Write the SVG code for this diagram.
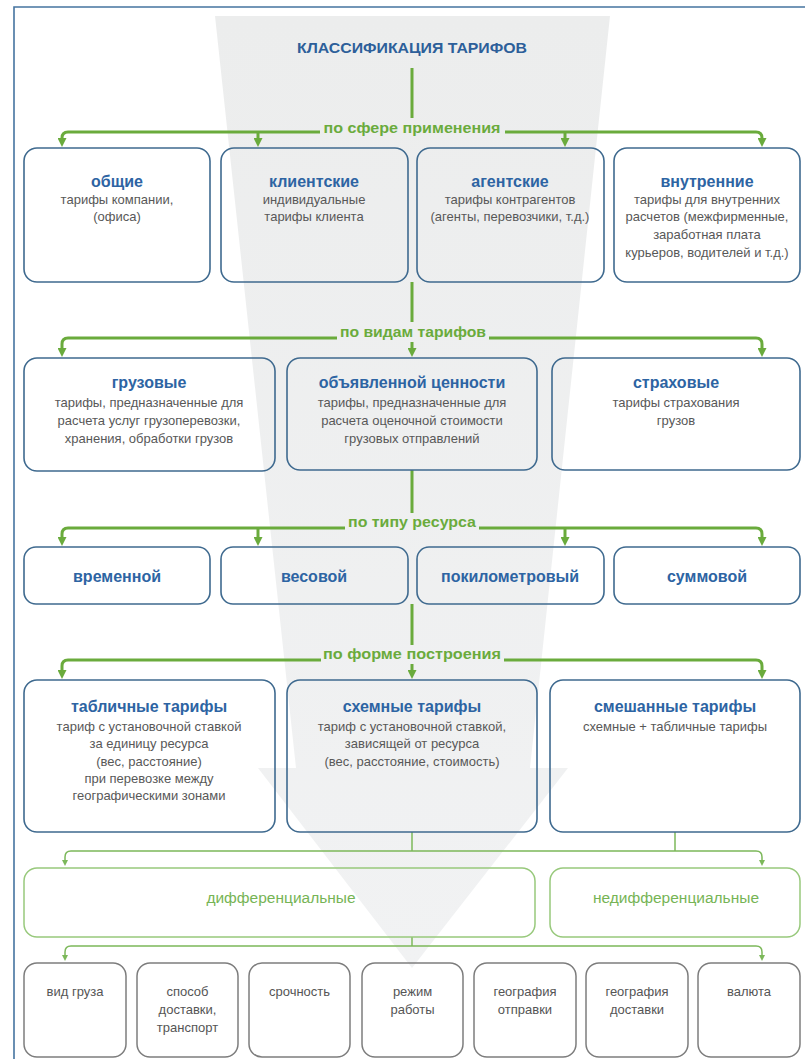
<svg xmlns="http://www.w3.org/2000/svg" width="805" height="1059" viewBox="0 0 805 1059">
<defs>
<style>
.box{fill:none;stroke:#3f6a8f;stroke-width:1.6}
.gbox{fill:none;stroke:#98c97c;stroke-width:1.5}
.kbox{fill:none;stroke:#7d7d7d;stroke-width:1.5}
.t{font-family:"Liberation Sans",Arial,sans-serif;text-anchor:middle}
.ttl{font-weight:bold;font-size:16px;fill:#2d64a3}
.sub{font-size:13px;fill:#585858}
.lbl{font-weight:bold;font-size:15px;fill:#6aab3c}
.thick{fill:none;stroke:#6aab3c;stroke-width:3}
.thin{fill:none;stroke:#7cb85a;stroke-width:1.5}
.diff{font-size:15.5px;fill:#76b455}
.bot{font-size:13px;fill:#555}
</style>
<linearGradient id="band" x1="0" y1="0" x2="0" y2="1">
<stop offset="0" stop-color="#eceded"/>
<stop offset="1" stop-color="#f1f2f3"/>
</linearGradient>
<marker id="ag" viewBox="0 0 10 10" refX="0" refY="5" markerWidth="9" markerHeight="9" markerUnits="userSpaceOnUse" orient="auto">
<path d="M0,0 L10,5 L0,10 Z" fill="#6aab3c"/>
</marker>
<marker id="as" viewBox="0 0 10 10" refX="0" refY="5" markerWidth="6" markerHeight="6" markerUnits="userSpaceOnUse" orient="auto">
<path d="M0,0 L10,5 L0,10 Z" fill="#7cb85a"/>
</marker>
</defs>
<rect width="805" height="1059" fill="#fff"/>
<polygon points="215,16 610,16 530,768 568,768 412,968 258,768 296,768" fill="url(#band)"/>
<path d="M14,1059 V7 H805" fill="none" stroke="#4574a0" stroke-width="1.6"/>

<g id="title">
<text class="t" x="412" y="53" font-size="15" font-weight="bold" fill="#2d5f9a" textLength="230" lengthAdjust="spacingAndGlyphs">КЛАССИФИКАЦИЯ ТАРИФОВ</text>
</g>

<g id="connectors">
<path class="thick" d="M412,68 V118"/>
<path class="thick" d="M320,132 H68 Q62,132 62,138" marker-end="url(#ag)"/>
<path class="thick" d="M258,132 V138" marker-end="url(#ag)"/>
<path class="thick" d="M505,132 H756 Q762,132 762,138" marker-end="url(#ag)"/>
<path class="thick" d="M565,132 V138" marker-end="url(#ag)"/>

<path class="thick" d="M412,282 V322"/>
<path class="thick" d="M337,338 H68 Q62,338 62,344 V348" marker-end="url(#ag)"/>
<path class="thick" d="M489,338 H756 Q762,338 762,344 V348" marker-end="url(#ag)"/>
<path class="thick" d="M412,342 V348" marker-end="url(#ag)"/>

<path class="thick" d="M412,470 V513"/>
<path class="thick" d="M345,528 H68 Q62,528 62,534 V537" marker-end="url(#ag)"/>
<path class="thick" d="M258,528 V537" marker-end="url(#ag)"/>
<path class="thick" d="M479,528 H756 Q762,528 762,534 V537" marker-end="url(#ag)"/>
<path class="thick" d="M565,528 V537" marker-end="url(#ag)"/>

<path class="thick" d="M412,604 V645"/>
<path class="thick" d="M321,660 H68 Q62,660 62,666 V670" marker-end="url(#ag)"/>
<path class="thick" d="M504,660 H756 Q762,660 762,666 V670" marker-end="url(#ag)"/>
<path class="thick" d="M412,664 V670" marker-end="url(#ag)"/>

<path class="thin" d="M412,832 V851"/>
<path class="thin" d="M675,832 V851"/>
<path class="thin" d="M412,851 H71 Q65,851 65,857 V860" marker-end="url(#as)"/>
<path class="thin" d="M412,851 H756 Q762,851 762,857 V860" marker-end="url(#as)"/>

<path class="thin" d="M412,937 V946"/>
<path class="thin" d="M412,946 H71 Q65,946 65,952 V955" marker-end="url(#as)"/>
<path class="thin" d="M412,946 H756 Q762,946 762,952 V955" marker-end="url(#as)"/>
</g>

<g id="labels">
<text class="t lbl" x="412" y="133" textLength="177" lengthAdjust="spacingAndGlyphs">по сфере применения</text>
<text class="t lbl" x="413" y="337" textLength="146" lengthAdjust="spacingAndGlyphs">по видам тарифов</text>
<text class="t lbl" x="412" y="527" textLength="128" lengthAdjust="spacingAndGlyphs">по типу ресурса</text>
<text class="t lbl" x="412" y="659" textLength="178" lengthAdjust="spacingAndGlyphs">по форме построения</text>
</g>

<g id="obshchie">
<rect class="box" x="24" y="148" width="186" height="134" rx="13"/>
<text class="t ttl" x="117" y="187">общие</text>
<text class="t sub" x="117" y="204">тарифы компании,</text>
<text class="t sub" x="117" y="221">(офиса)</text>
</g>
<g id="klientskie">
<rect class="box" x="221" y="148" width="187" height="134" rx="13"/>
<text class="t ttl" x="314" y="187">клиентские</text>
<text class="t sub" x="314" y="204">индивидуальные</text>
<text class="t sub" x="314" y="221">тарифы клиента</text>
</g>
<g id="agentskie">
<rect class="box" x="417" y="148" width="187" height="134" rx="13"/>
<text class="t ttl" x="510" y="187">агентские</text>
<text class="t sub" x="510" y="204">тарифы контрагентов</text>
<text class="t sub" x="510" y="221">(агенты, перевозчики, т.д.)</text>
</g>
<g id="vnutrennie">
<rect class="box" x="614" y="148" width="186" height="134" rx="13"/>
<text class="t ttl" x="707" y="187">внутренние</text>
<text class="t sub" x="707" y="204">тарифы для внутренних</text>
<text class="t sub" x="707" y="221">расчетов (межфирменные,</text>
<text class="t sub" x="707" y="239">заработная плата</text>
<text class="t sub" x="707" y="257">курьеров, водителей и т.д.)</text>
</g>

<g id="gruzovye">
<rect class="box" x="24" y="358" width="251" height="113" rx="13"/>
<text class="t ttl" x="149" y="388">грузовые</text>
<text class="t sub" x="149" y="407">тарифы, предназначенные для</text>
<text class="t sub" x="149" y="425">расчета услуг грузоперевозки,</text>
<text class="t sub" x="149" y="443">хранения, обработки грузов</text>
</g>
<g id="obyavlennoy">
<rect class="box" x="287" y="358" width="250" height="112" rx="13"/>
<text class="t ttl" x="412" y="388">объявленной ценности</text>
<text class="t sub" x="412" y="407">тарифы, предназначенные для</text>
<text class="t sub" x="412" y="425">расчета оценочной стоимости</text>
<text class="t sub" x="412" y="443">грузовых отправлений</text>
</g>
<g id="strakhovye">
<rect class="box" x="552" y="358" width="248" height="112" rx="13"/>
<text class="t ttl" x="676" y="388">страховые</text>
<text class="t sub" x="676" y="407">тарифы страхования</text>
<text class="t sub" x="676" y="425">грузов</text>
</g>

<g id="vremennoy">
<rect class="box" x="24" y="547" width="186" height="57" rx="12"/>
<text class="t ttl" x="117" y="582">временной</text>
</g>
<g id="vesovoy">
<rect class="box" x="221" y="547" width="187" height="57" rx="12"/>
<text class="t ttl" x="314" y="582">весовой</text>
</g>
<g id="pokilometrovy">
<rect class="box" x="417" y="547" width="187" height="57" rx="12"/>
<text class="t ttl" x="510" y="582">покилометровый</text>
</g>
<g id="summovoy">
<rect class="box" x="614" y="547" width="186" height="57" rx="12"/>
<text class="t ttl" x="707" y="582">суммовой</text>
</g>

<g id="tablichnye">
<rect class="box" x="24" y="680" width="251" height="152" rx="13"/>
<text class="t ttl" x="149" y="712">табличные тарифы</text>
<text class="t sub" x="149" y="731">тариф с установочной ставкой</text>
<text class="t sub" x="149" y="748">за единицу ресурса</text>
<text class="t sub" x="149" y="766">(вес, расстояние)</text>
<text class="t sub" x="149" y="783">при перевозке между</text>
<text class="t sub" x="149" y="800">географическими зонами</text>
</g>
<g id="skhemnye">
<rect class="box" x="287" y="680" width="250" height="152" rx="13"/>
<text class="t ttl" x="412" y="712">схемные тарифы</text>
<text class="t sub" x="412" y="731">тариф с установочной ставкой,</text>
<text class="t sub" x="412" y="748">зависящей от ресурса</text>
<text class="t sub" x="412" y="766">(вес, расстояние, стоимость)</text>
</g>
<g id="smeshannye">
<rect class="box" x="550" y="680" width="250" height="152" rx="13"/>
<text class="t ttl" x="675" y="712">смешанные тарифы</text>
<text class="t sub" x="675" y="731">схемные + табличные тарифы</text>
</g>

<g id="differentsialnye">
<rect class="gbox" x="24" y="868" width="511" height="69" rx="13"/>
<text class="t diff" x="281" y="903">дифференциальные</text>
</g>
<g id="nedifferentsialnye">
<rect class="gbox" x="550" y="868" width="250" height="69" rx="13"/>
<text class="t diff" x="676" y="903">недифференциальные</text>
</g>

<g id="vid-gruza">
<rect class="kbox" x="24" y="963" width="102" height="94" rx="13"/>
<text class="t bot" x="75" y="996">вид груза</text>
</g>
<g id="sposob">
<rect class="kbox" x="137" y="963" width="101" height="94" rx="13"/>
<text class="t bot" x="187.5" y="996">способ</text>
<text class="t bot" x="187.5" y="1014">доставки,</text>
<text class="t bot" x="187.5" y="1032">транспорт</text>
</g>
<g id="srochnost">
<rect class="kbox" x="249" y="963" width="101" height="94" rx="13"/>
<text class="t bot" x="299.5" y="996">срочность</text>
</g>
<g id="rezhim">
<rect class="kbox" x="362" y="963" width="101" height="94" rx="13"/>
<text class="t bot" x="412.5" y="996">режим</text>
<text class="t bot" x="412.5" y="1014">работы</text>
</g>
<g id="geo-otpravki">
<rect class="kbox" x="474" y="963" width="102" height="94" rx="13"/>
<text class="t bot" x="525" y="996">география</text>
<text class="t bot" x="525" y="1014">отправки</text>
</g>
<g id="geo-dostavki">
<rect class="kbox" x="586" y="963" width="102" height="94" rx="13"/>
<text class="t bot" x="637" y="996">география</text>
<text class="t bot" x="637" y="1014">доставки</text>
</g>
<g id="valyuta">
<rect class="kbox" x="698" y="963" width="102" height="94" rx="13"/>
<text class="t bot" x="749" y="996">валюта</text>
</g>
</svg>
